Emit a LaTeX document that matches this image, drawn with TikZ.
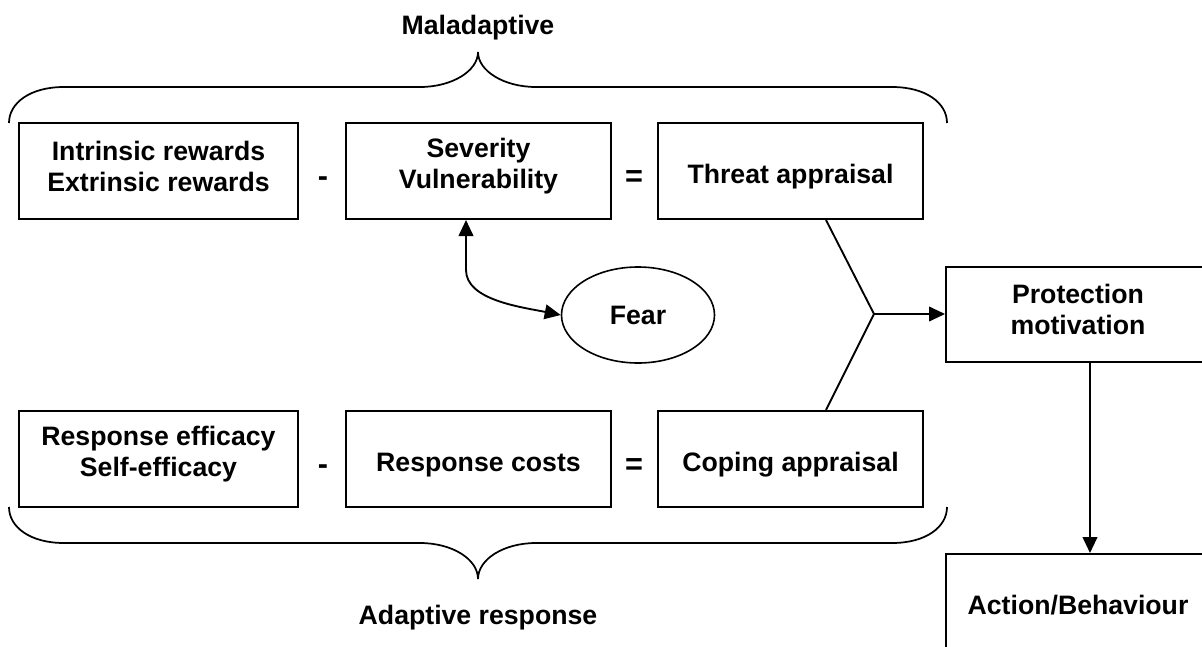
\documentclass[tikz,border=0pt]{standalone}
\usepackage{fontspec}
\setmainfont{Liberation Sans}
\usetikzlibrary{arrows.meta,shapes.geometric}
\begin{document}
\begin{tikzpicture}[x=0.75pt,y=-0.75pt,
  every node/.style={font=\bfseries\fontsize{20}{23.25}\selectfont},
  every label/.style={font=\bfseries\fontsize{20}{23.25}\selectfont,align=center,inner sep=0pt},
  box/.style={draw,line width=1.5pt,inner sep=0pt,
              minimum width=198.75pt,minimum height=72pt},
  wide/.style={minimum width=209.25pt},
  twoline/.style={label={[yshift=3.5pt]center:#1}},
  oneline/.style={label={[yshift=-4.5pt]center:#1}},
  oval/.style={draw,ellipse,line width=1.2pt,inner sep=0pt,
               minimum width=114.75pt,minimum height=72pt},
  conn/.style={line width=1.4pt},
  tip/.tip={Triangle[length=12pt,width=11pt]},
  arr/.style={conn,-tip},
  dblarr/.style={conn,tip-tip},
  brace/.style={line width=1.3pt},
  op/.style={anchor=base,font=\bfseries\fontsize{23}{27}\selectfont}]
\useasboundingbox (0,0) rectangle (1202,646);

% threat row
\node[box,wide,twoline={Intrinsic rewards\\Extrinsic rewards}] (rew) at (158.5,171) {};
\node[box,twoline={Severity\\Vulnerability}] (sev) at (478.5,171) {};
\node[box,oneline={Threat appraisal}] (thr) at (790.5,171) {};
\node[op] (minusA) at (323,186) {-};
\node[op] (eqA) at (634,186) {=};

% coping row
\node[box,wide,twoline={Response efficacy\\Self-efficacy}] (eff) at (158.5,459) {};
\node[box,oneline={Response costs}] (cost) at (478.5,459) {};
\node[box,oneline={Coping appraisal}] (cop) at (790.5,459) {};
\node[op] (minusB) at (323,474) {-};
\node[op] (eqB) at (634,474) {=};

% fear
\node[oval] (fear) at (638,315) {Fear};

% outcome boxes
\node[box,minimum width=198pt,minimum height=71.25pt,twoline={Protection\\motivation}] (pm) at (1078,314) {};
\node[box,minimum width=198pt,minimum height=76.5pt] (act) at (1078,605) {Action/Behaviour};

% braces
\draw[brace] (9,123) .. controls (9,103) and (30,87) .. (64,87) -- (420,87)
  .. controls (452,87) and (478,71) .. (478,52)
  .. controls (478,71) and (504,87) .. (536,87) -- (892,87)
  .. controls (926,87) and (947,103) .. (947,123);
\draw[brace] (9,507) .. controls (9,527) and (30,543) .. (64,543) -- (420,543)
  .. controls (452,543) and (478,559) .. (478,579)
  .. controls (478,559) and (504,543) .. (536,543) -- (892,543)
  .. controls (926,543) and (947,527) .. (947,507);
\node (mal) at (478,28) {Maladaptive};
\node (adr) at (478,618) {Adaptive response};

% connectors
\coordinate (J) at (874,314);
\draw[conn] ([xshift=126.75pt]thr.south west) -- (J) -- ([xshift=126.75pt]cop.north west);
\draw[arr] (J) -- (pm.west);
\draw[arr] ([xshift=9pt]pm.south) -- ([xshift=9pt]act.north);
\draw[dblarr] ([xshift=-9.375pt]sev.south) -- ++(0,50)
  .. controls +(0,30) and +(-40,-8) .. (fear.west);
\end{tikzpicture}
\end{document}
